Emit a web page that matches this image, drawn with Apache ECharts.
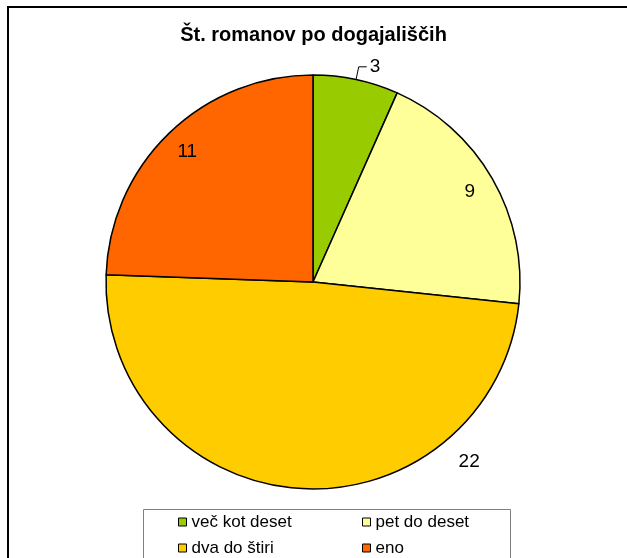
<!DOCTYPE html>
<html>
<head>
<meta charset="utf-8">
<script src="https://cdn.jsdelivr.net/npm/echarts@6/dist/echarts.min.js"></script>
<style>
  html, body { margin: 0; padding: 0; background: #fff; }
  #chart { width: 627px; height: 558px; }
</style>
</head>
<body>
<div id="chart"></div>
<script>
// Slice data (clockwise from 12 o'clock)
const categories = ["več kot deset", "pet do deset", "dva do štiri", "eno"];
const values = [3, 9, 22, 11];
const colors = ["#99CC00", "#FFFF99", "#FFCC00", "#FF6600"];

// Pie geometry
const CX = 313, CY = 282, R = 207;
const FONT = "'Liberation Sans', Arial, sans-serif";

const chart = echarts.init(document.getElementById("chart"));

const mainData = categories.map((name, i) => ({
  name: name,
  value: values[i],
  itemStyle: { color: colors[i] },
  label: { show: i === 0 || i === 2 },
  labelLine: { show: i === 0 }
}));

// transparent ring used only to place the inner labels near the rim
const ghostData = categories.map((name, i) => ({
  name: name,
  value: values[i],
  label: { show: i === 1 || i === 3 }
}));

const legendBase = {
  orient: "vertical",
  top: 513,
  height: 60,
  padding: 0,
  itemWidth: 8,
  itemHeight: 8,
  itemGap: 8,
  icon: "rect",
  selectedMode: false,
  itemStyle: { borderColor: "#000", borderWidth: 1 },
  textStyle: { fontFamily: FONT, fontSize: 17, color: "#000", lineHeight: 18 }
};

const options = {
  animation: false,
  title: {
    text: "Št. romanov po dogajališčih",
    left: "center",
    top: 20,
    textStyle: { fontFamily: FONT, fontSize: 20, fontWeight: "bold", color: "#000" }
  },
  legend: [
    Object.assign({}, legendBase, { left: 178, data: [categories[0], categories[2]] }),
    Object.assign({}, legendBase, { left: 362, data: [categories[1], categories[3]] })
  ],
  graphic: [
    {
      type: "rect",
      shape: { x: 8, y: 7, width: 700, height: 700 },
      style: { fill: null, stroke: "#000", lineWidth: 2 },
      z: -1
    },
    {
      type: "rect",
      shape: { x: 143.5, y: 509.5, width: 367, height: 80 },
      style: { fill: null, stroke: "#808080", lineWidth: 1 },
      z: -1
    }
  ],
  series: [
    {
      type: "pie",
      center: [CX, CY],
      radius: [0, R],
      startAngle: 90,
      clockwise: true,
      silent: true,
      itemStyle: { borderColor: "#000", borderWidth: 1.5 },
      label: {
        position: "outside",
        formatter: "{c}",
        fontFamily: FONT,
        fontSize: 19,
        color: "#000",
        distanceToLabelLine: 3
      },
      labelLine: {
        length: 13,
        length2: 8,
        lineStyle: { color: "#000", width: 1 }
      },
      labelLayout: function (params) {
        if (params.dataIndex !== 2) return {};
        // Excel "best fit" pushed this label to the lower right, off the mid angle
        const a = 139 * Math.PI / 180;
        const d = R + 31;
        return {
          x: CX + d * Math.sin(a),
          y: CY - d * Math.cos(a),
          align: "center",
          verticalAlign: "middle"
        };
      },
      data: mainData
    },
    {
      type: "pie",
      center: [CX, CY],
      radius: [R - 44, R - 14],
      startAngle: 90,
      clockwise: true,
      silent: true,
      legendHoverLink: false,
      itemStyle: { color: "rgba(0,0,0,0)", borderWidth: 0 },
      label: {
        position: "inside",
        formatter: "{c}",
        fontFamily: FONT,
        fontSize: 19,
        color: "#000"
      },
      labelLine: { show: false },
      data: ghostData
    }
  ]
};

chart.setOption(options);
</script>
</body>
</html>
